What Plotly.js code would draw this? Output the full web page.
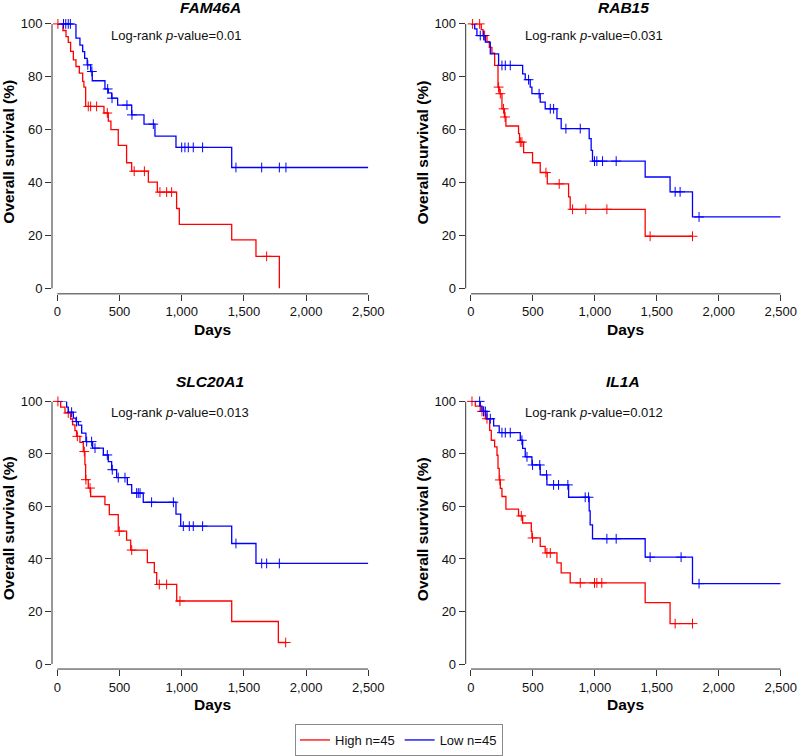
<!DOCTYPE html>
<html>
<head>
<meta charset="utf-8">
<script src="https://cdn.plot.ly/plotly-3.0.1.min.js"></script>
<style>html,body{margin:0;padding:0;background:#fff;}#chart{width:798px;height:756px;}</style>
</head>
<body>
<div id="chart"></div>
<script>
// ---------- data ----------
const genes = ['FAM46A', 'RAB15', 'SLC20A1', 'IL1A'];
const pValues = ['0.01', '0.031', '0.013', '0.012'];
const groupNames = ['High n=45', 'Low n=45'];
const xTicks = [0, 500, 1000, 1500, 2000, 2500];
const yTicks = [0, 20, 40, 60, 80, 100];

// FAM46A
const fam46aHighT = [45, 70, 88, 107, 129, 150, 177, 204, 214, 228, 375, 410, 431, 490, 557, 598, 732, 804, 959, 981, 1402, 1597, 1785];
const fam46aHighS = [97.5, 95.2, 93.0, 89.6, 86.4, 83.9, 81.4, 78.3, 76.1, 68.8, 66.3, 63.2, 60.0, 54.1, 47.5, 44.3, 40.2, 36.4, 30.2, 24.2, 18.3, 12.1, 0];
const fam46aHighC = [5, 249, 268, 316, 402, 618, 700, 825, 879, 919, 1683];
const fam46aLowT = [150, 182, 204, 220, 240, 268, 281, 383, 410, 437, 485, 598, 697, 785, 954, 1402];
const fam46aLowS = [94.6, 92.0, 89.5, 87.0, 84.5, 82.0, 78.5, 75.4, 73.9, 71.9, 69.3, 65.6, 62.1, 57.6, 53.3, 45.7];
const fam46aLowC = [50, 68, 88, 105, 245, 278, 405, 440, 560, 600, 772, 1000, 1026, 1053, 1093, 1168, 1436, 1643, 1785, 1838];

// RAB15
const rab15HighT = [83, 97, 129, 148, 169, 191, 218, 228, 250, 270, 282, 384, 392, 425, 497, 559, 616, 788, 801, 1406];
const rab15HighS = [97.8, 95.6, 93.3, 91.1, 88.9, 84.3, 76.1, 73.6, 67.9, 64.8, 61.4, 58.5, 55.3, 51.3, 47.5, 43.8, 39.5, 34.6, 29.9, 19.7];
const rab15HighC = [13, 70, 110, 223, 237, 263, 275, 398, 411, 605, 712, 820, 927, 1097, 1446, 1788];
const rab15LowT = [30, 48, 116, 156, 223, 417, 438, 478, 492, 559, 599, 694, 728, 954, 970, 981, 1406, 1607, 1788];
const rab15LowS = [98.1, 95.6, 93.1, 88.7, 84.3, 81.1, 78.9, 76.1, 73.6, 70.4, 67.9, 64.2, 60.4, 56.6, 52.2, 48.1, 42.1, 36.5, 27.0];
const rab15LowC = [75, 102, 250, 277, 317, 465, 550, 640, 667, 766, 882, 997, 1016, 1062, 1172, 1648, 1688, 1841];

// SLC20A1
const slc20a1HighT = [27, 62, 107, 123, 142, 155, 182, 209, 222, 228, 249, 268, 383, 418, 490, 557, 590, 724, 780, 799, 960, 1402, 1777];
const slc20a1HighS = [97.8, 95.6, 93.3, 91.1, 88.9, 86.7, 84.4, 80.9, 75.9, 70.2, 67.0, 63.8, 60.7, 56.9, 50.6, 47.2, 43.4, 38.6, 34.8, 30.3, 24.0, 16.2, 8.2];
const slc20a1HighC = [5, 88, 161, 217, 230, 263, 498, 598, 820, 879, 986, 1836];
const slc20a1LowT = [75, 88, 129, 150, 169, 196, 230, 284, 370, 410, 437, 477, 563, 598, 691, 954, 992, 1402, 1597];
const slc20a1LowS = [97.8, 95.9, 93.6, 92.3, 91.0, 87.9, 84.7, 82.2, 79.6, 77.1, 74.0, 71.0, 68.3, 65.1, 61.6, 57.1, 52.5, 45.9, 38.3];
const slc20a1LowC = [115, 155, 236, 276, 303, 402, 442, 490, 544, 638, 651, 665, 758, 933, 1013, 1061, 1093, 1168, 1436, 1643, 1683, 1785];

// IL1A
const il1aHighT = [35, 75, 116, 151, 164, 191, 210, 218, 228, 237, 250, 282, 384, 417, 487, 492, 559, 599, 694, 728, 801, 1406, 1607];
const il1aHighS = [98.2, 96.2, 93.4, 89.0, 85.2, 82.7, 79.5, 74.5, 70.1, 66.9, 63.8, 59.0, 56.4, 53.7, 50.5, 48.0, 44.8, 42.3, 38.5, 34.7, 30.9, 23.4, 15.4];
const il1aHighC = [8, 89, 102, 129, 233, 406, 497, 613, 640, 882, 997, 1016, 1056, 1648, 1788];
const il1aLowT = [75, 89, 129, 183, 228, 398, 417, 438, 492, 559, 613, 788, 954, 962, 981, 1406, 1788];
const il1aLowS = [98.2, 96.2, 93.4, 90.7, 88.1, 85.2, 82.1, 78.9, 75.8, 72.0, 68.2, 63.5, 58.3, 53.0, 47.7, 40.7, 30.6];
const il1aLowC = [70, 102, 116, 156, 250, 277, 317, 411, 452, 497, 555, 610, 667, 707, 782, 922, 949, 1097, 1172, 1446, 1696, 1841];

const highEnd = [1785, 1788, 1840, 1788];
const lowEnd = [2500, 2500, 2500, 2500];

// ---------- build ----------
const panels = [
  {high: [fam46aHighT, fam46aHighS, fam46aHighC], low: [fam46aLowT, fam46aLowS, fam46aLowC]},
  {high: [rab15HighT, rab15HighS, rab15HighC], low: [rab15LowT, rab15LowS, rab15LowC]},
  {high: [slc20a1HighT, slc20a1HighS, slc20a1HighC], low: [slc20a1LowT, slc20a1LowS, slc20a1LowC]},
  {high: [il1aHighT, il1aHighS, il1aHighC], low: [il1aLowT, il1aLowS, il1aLowC]}
];
const colors = ['#ff0000', '#0000ff'];

function stepAt(T, S, t) {
  let v = 100;
  for (let i = 0; i < T.length; i++) if (T[i] <= t) v = S[i];
  return v;
}

const traces = [];
panels.forEach((p, i) => {
  const ax = i === 0 ? '' : String(i + 1);
  [['high', 0, highEnd[i]], ['low', 1, lowEnd[i]]].forEach(([key, g, end]) => {
    const [T, S, C] = p[key];
    const xs = [0].concat(T, [end]);
    const ys = [100].concat(S, [S[S.length - 1]]);
    traces.push({
      x: xs, y: ys, type: 'scatter', mode: 'lines',
      line: {shape: 'hv', color: colors[g], width: 1.3},
      name: groupNames[g], legendgroup: groupNames[g], showlegend: i === 0,
      xaxis: 'x' + ax, yaxis: 'y' + ax, hoverinfo: 'skip'
    });
    traces.push({
      x: C, y: C.map(t => stepAt(T, S, t)), type: 'scatter', mode: 'markers',
      marker: {symbol: 'cross-thin', size: 7, line: {color: colors[g], width: 1}, color: colors[g]},
      showlegend: false, legendgroup: groupNames[g], cliponaxis: false,
      xaxis: 'x' + ax, yaxis: 'y' + ax, hoverinfo: 'skip'
    });
  });
});

const W = 798, H = 756;
const xDomPx = [[52, 368.3], [465.7, 780.7], [52, 368.3], [465.7, 780.7]];
const yDomPx = [[24, 295], [24, 295], [403, 671.7], [403, 671.7]];
const yLow = [-2.07, -2.07, -1.9, -1.9];
const titleY = [1.06, 1.06, 1.074, 1.074];
const prY = [0.957, 0.957, 0.959, 0.959];
const daysY = [-0.133, -0.133, -0.134, -0.134];

const font = 'Liberation Sans, Arial, sans-serif';
const layout = {
  width: W, height: H,
  margin: {l: 0, r: 0, t: 0, b: 0},
  paper_bgcolor: '#fff', plot_bgcolor: '#fff',
  font: {family: font, color: '#111', size: 13},
  showlegend: true,
  legend: {
    orientation: 'h', x: 0.5, xanchor: 'center', y: 1 - 727 / H, yanchor: 'top',
    bordercolor: '#8a8a8a', borderwidth: 1, font: {size: 13, family: font},
    itemwidth: 30, tracegroupgap: 0
  },
  shapes: [], annotations: []
};

panels.forEach((p, i) => {
  const ax = i === 0 ? '' : String(i + 1);
  const xd = xDomPx[i], yd = yDomPx[i];
  const xPad = -42.6;
  layout['xaxis' + ax] = {
    domain: [xd[0] / W, xd[1] / W], range: [xPad, 2500], anchor: 'y' + ax,
    tickvals: xTicks, tickformat: ',d', ticks: 'outside', ticklen: 6, tickwidth: 1, tickcolor: '#333',
    showgrid: false, zeroline: false, showline: false, tickfont: {size: 13, color: '#111'},
    fixedrange: true
  };
  layout['yaxis' + ax] = {
    domain: [1 - yd[1] / H, 1 - yd[0] / H], range: [yLow[i], 100], anchor: 'x' + ax,
    tickvals: yTicks, ticks: 'outside', ticklen: 6, tickwidth: 1, tickcolor: '#333',
    showgrid: false, zeroline: false, showline: false, tickfont: {size: 13, color: '#111'},
    fixedrange: true
  };
  // axis lines (R-style detached)
  layout.shapes.push({type: 'line', xref: 'x' + ax, yref: 'y' + ax + ' domain', x0: 0, x1: 2500, y0: 0, y1: 0, line: {color: '#333', width: 1}});
  layout.shapes.push({type: 'line', xref: 'x' + ax + ' domain', yref: 'y' + ax, x0: 0, x1: 0, y0: 0, y1: 100, line: {color: '#333', width: 1}});
  // panel title
  layout.annotations.push({xref: 'x' + ax + ' domain', yref: 'y' + ax + ' domain', x: 0.5, y: titleY[i],
    text: '<b><i>' + genes[i] + '</i></b>', showarrow: false, xanchor: 'center', yanchor: 'middle',
    font: {size: 15.5, family: font, color: '#000'}});
  // log-rank
  layout.annotations.push({xref: 'x' + ax + ' domain', yref: 'y' + ax + ' domain', x: 0.181, y: prY[i],
    text: 'Log-rank <i>p</i>-value=' + pValues[i], showarrow: false, xanchor: 'left', yanchor: 'middle',
    font: {size: 13, family: font, color: '#111'}});
  // x title
  layout.annotations.push({xref: 'x' + ax, yref: 'y' + ax + ' domain', x: 1250, y: daysY[i],
    text: '<b>Days</b>', showarrow: false, xanchor: 'center', yanchor: 'middle',
    font: {size: 15.5, family: font, color: '#000'}});
  // y title
  layout.annotations.push({xref: 'x' + ax + ' domain', yref: 'y' + ax, x: -0.1375, y: 51.5,
    text: '<b>Overall survival (%)</b>', showarrow: false, textangle: -90, xanchor: 'center', yanchor: 'middle',
    font: {size: 15.5, family: font, color: '#000'}});
});

Plotly.newPlot('chart', traces, layout, {displayModeBar: false, staticPlot: true});
</script>
</body>
</html>
